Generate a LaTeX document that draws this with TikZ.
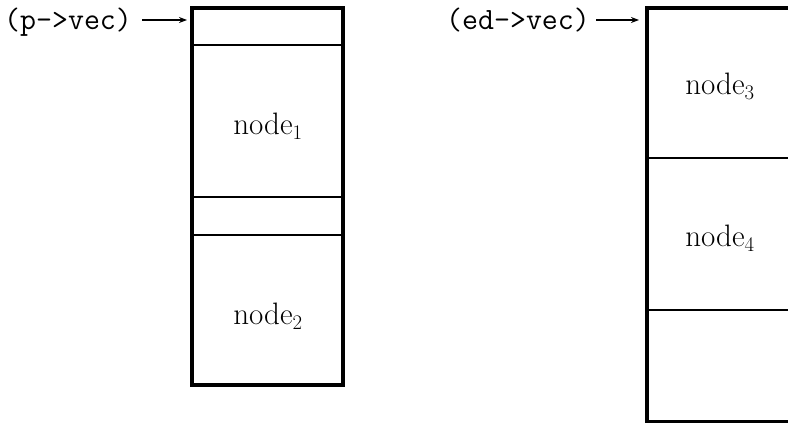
\documentclass[tikz,border=0pt]{standalone}
\usepackage{fontspec}
\usetikzlibrary{arrows.meta}
\begin{document}
\begin{tikzpicture}[x=1pt,y=-1pt,
  outer/.style={line width=3.4pt,line cap=rect},
  inner/.style={line width=2.4pt},
  lbl/.style={font=\fontsize{31}{36}\selectfont,inner sep=0pt},
  ptr/.style={font=\fontsize{31}{36}\selectfont\ttfamily,inner sep=0pt,anchor=base west},
  ptrarrow/.style={line width=1.8pt,-{Stealth[length=8pt,width=6pt]}}]
\useasboundingbox (0,0) rectangle (788,423);
% left box
\draw[outer] (192,8) rectangle (343,385);
\draw[inner] (192,45) -- (343,45);
\draw[inner] (192,197) -- (343,197);
\draw[inner] (192,235) -- (343,235);
\node[lbl] (n1) at (268,126) {node$_1$};
\node[lbl] (n2) at (268,316) {node$_2$};
% right box
\draw[outer] (800,8) -- (647,8) -- (647,422) -- (800,422);
\draw[inner] (647,158) -- (800,158);
\draw[inner] (647,310) -- (800,310);
\node[lbl] (n3) at (720,86) {node$_3$};
\node[lbl] (n4) at (720,238) {node$_4$};
% pointers
\node[ptr] (p) at (4,30) {(p->vec)};
\coordinate (pa) at (187,20);
\draw[ptrarrow] (142,20) -- (pa);
\node[ptr] (ed) at (446,30) {(ed->vec)};
\coordinate (ea) at (639,20);
\draw[ptrarrow] (596,20) -- (ea);
\end{tikzpicture}
\end{document}
